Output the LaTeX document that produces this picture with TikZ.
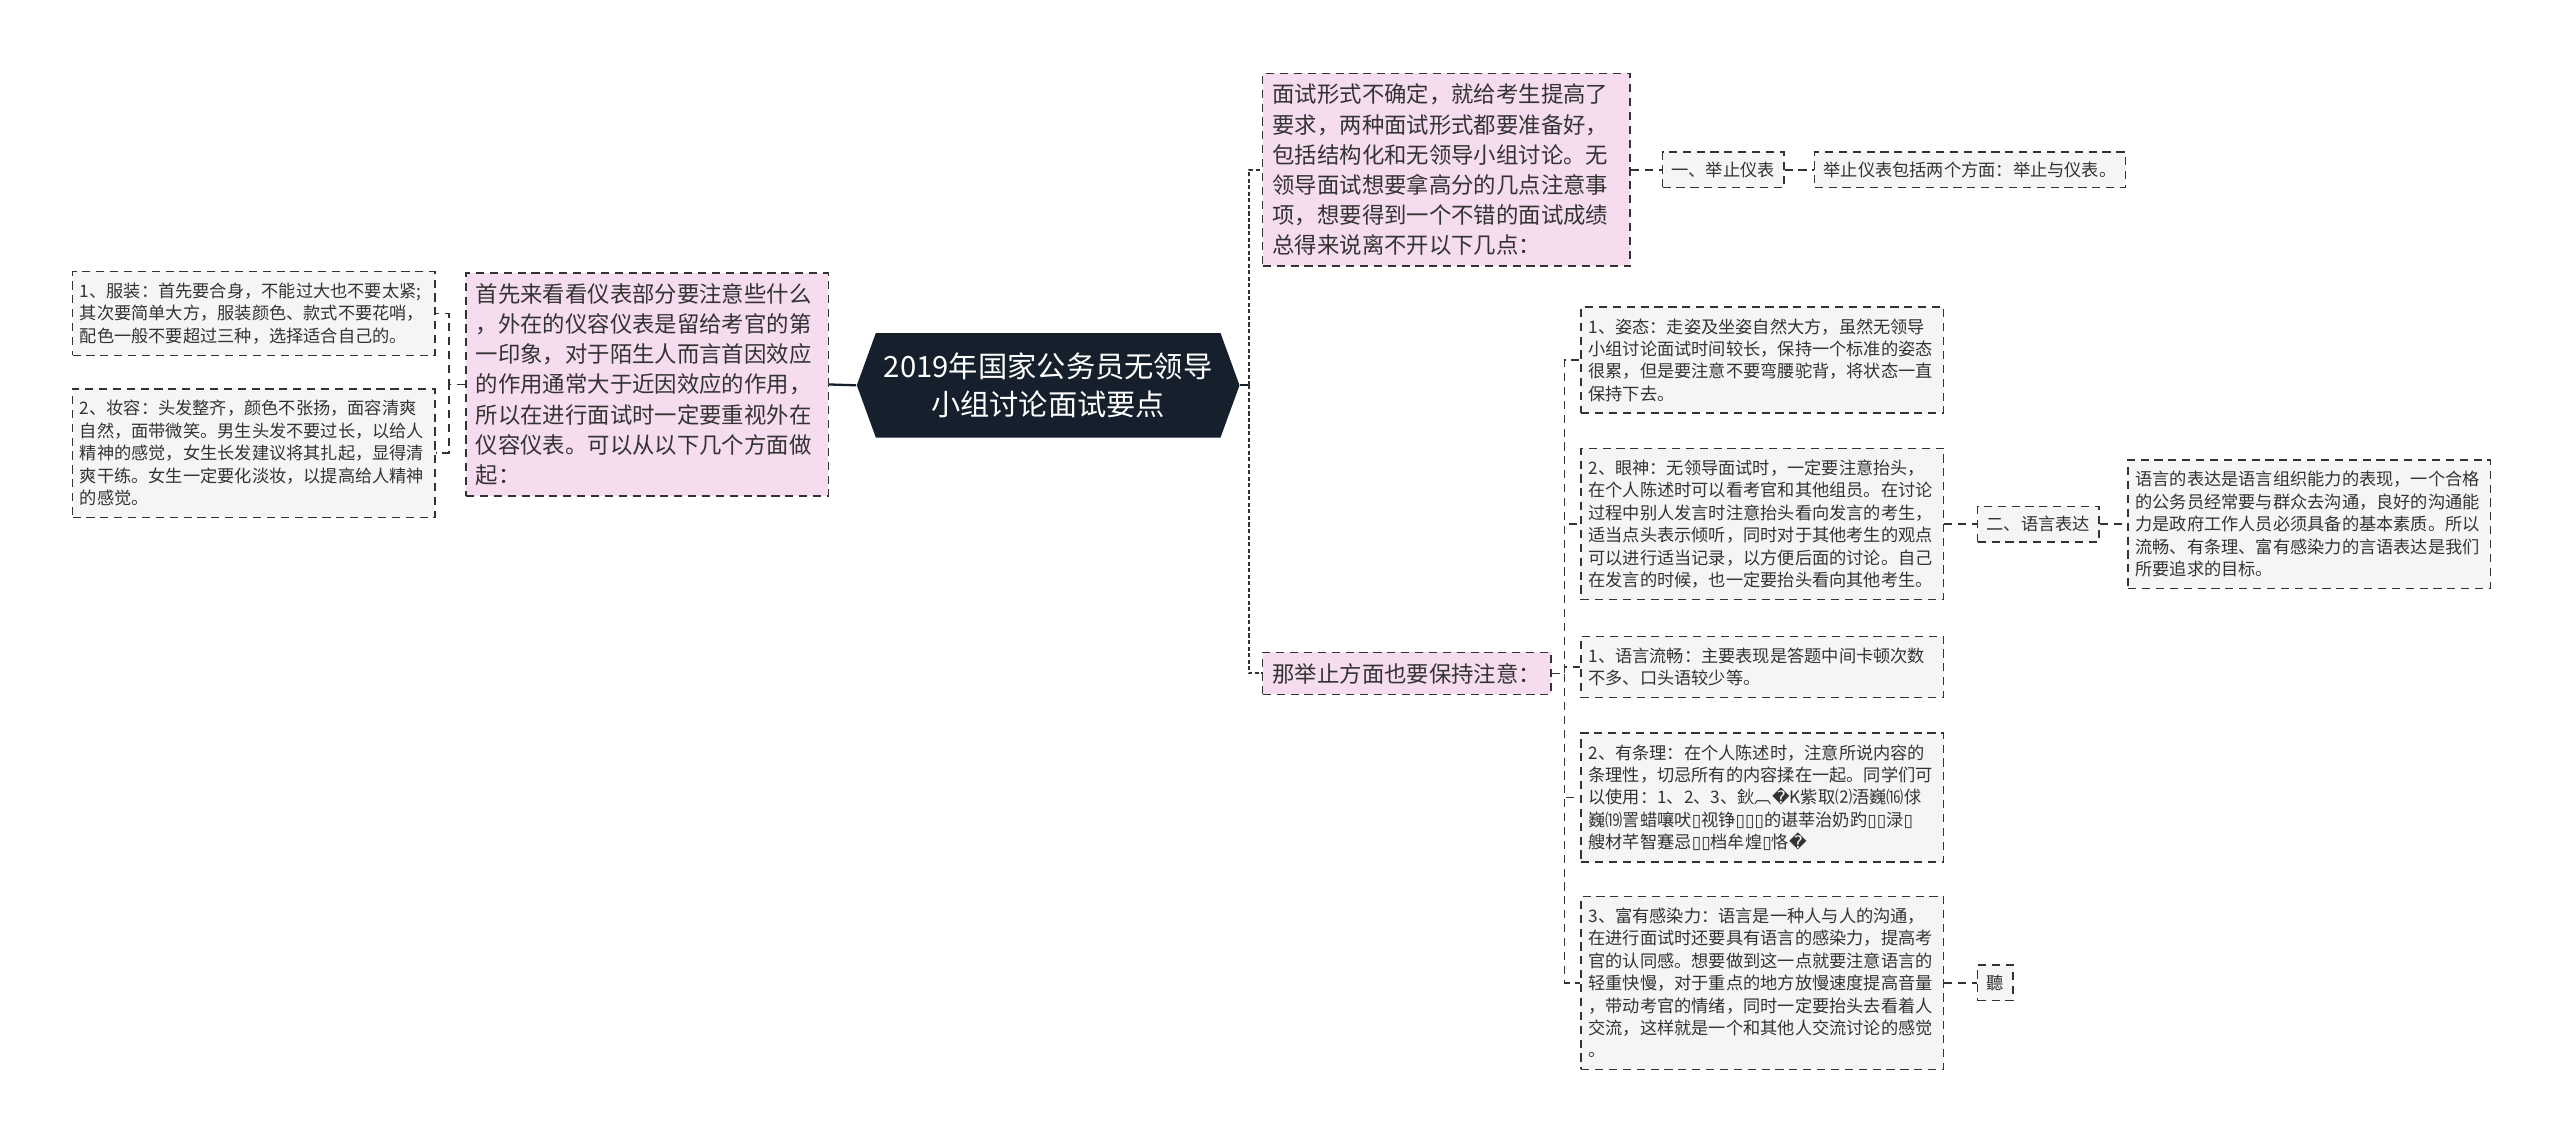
\documentclass[tikz,border=0pt]{standalone}
\usepackage{fontspec}
\setmainfont{Noto Sans CJK SC}
\newfontfamily\symfont{DejaVu Sans}
\usetikzlibrary{shapes.symbols,positioning}
\definecolor{rootnavy}{HTML}{16202D}
\definecolor{topicpink}{HTML}{F6DCEF}
\definecolor{leafgrey}{HTML}{F5F5F5}
\definecolor{edgegrey}{HTML}{333333}
\newcommand{\tofu}{{\symfont ▯}}
\newcommand{\badglyph}{{\symfont �}}

\begin{document}
\begin{tikzpicture}[
    x=0.2mm, y=-0.2mm,
    dashbox/.style={
        rectangle,
        draw=edgegrey,
        fill=leafgrey,
        line width=0.5pt,
        dash pattern=on 1mm off 0.7mm,
        text=edgegrey,
        align=left,
        font=\fontsize{6pt}{7.8pt}\selectfont,
        inner xsep=1.1mm,
        inner ysep=1.2mm,
        anchor=west
    },
    leafbox/.style={
        dashbox,
        text width=42.6mm,
        inner xsep=0.9mm,
        inner ysep=1.4mm
    },
    topicbox/.style={
        dashbox,
        fill=topicpink,
        font=\fontsize{7.8pt}{10.5pt}\selectfont,
        inner xsep=1.2mm,
        inner ysep=1.3mm
    },
    rootbox/.style={
        signal,
        signal to=west and east,
        signal pointer angle=140,
        fill=rootnavy,
        text=white,
        align=center,
        font=\fontsize{10.2pt}{13pt}\selectfont,
        minimum width=46mm,
        minimum height=12.8mm,
        inner xsep=1mm
    },
    rootlink/.style={draw=rootnavy, line width=0.8pt},
    hublink/.style={draw=edgegrey, line width=0.7pt, dash pattern=on 0.5mm off 0.3mm},
    link/.style={draw=edgegrey, line width=0.5pt, dash pattern=on 1mm off 0.7mm}
]
\useasboundingbox (0,0) rectangle (1568,700);

\node[rootbox] (root) at (642,236) {2019年国家公务员无领导\\小组讨论面试要点};

\node[topicbox, text width=42mm] (leftmain) at (285,235.5) {
首先来看看仪表部分要注意些什么\\
，外在的仪容仪表是留给考官的第\\
一印象，对于陌生人而言首因效应\\
的作用通常大于近因效应的作用，\\
所以在进行面试时一定要重视外在\\
仪容仪表。可以从以下几个方面做\\
起：};

\node[leafbox] (cloth) at (44,192) {
1、服装：首先要合身，不能过大也不要太紧;\\
其次要简单大方，服装颜色、款式不要花哨，\\
配色一般不要超过三种，选择适合自己的。};

\node[leafbox] (makeup) at (44,277.5) {
2、妆容：头发整齐，颜色不张扬，面容清爽\\
自然，面带微笑。男生头发不要过长，以给人\\
精神的感觉，女生长发建议将其扎起，显得清\\
爽干练。女生一定要化淡妆，以提高给人精神\\
的感觉。};

\node[topicbox, text width=42.6mm] (topmain) at (773,104) {
面试形式不确定，就给考生提高了\\
要求，两种面试形式都要准备好，\\
包括结构化和无领导小组讨论。无\\
领导面试想要拿高分的几点注意事\\
项，想要得到一个不错的面试成绩\\
总得来说离不开以下几点：};

\node[dashbox, right=3.8mm of topmain] (lift) {一、举止仪表};
\node[dashbox, right=3.6mm of lift] (liftnote) {举止仪表包括两个方面：举止与仪表。};

\node[topicbox] (moremain) at (773,412.5) {那举止方面也要保持注意：};

\node[leafbox] (posture) at (968,220.5) {
1、姿态：走姿及坐姿自然大方，虽然无领导\\
小组讨论面试时间较长，保持一个标准的姿态\\
很累，但是要注意不要弯腰驼背，将状态一直\\
保持下去。};

\node[leafbox] (eyes) at (968,321) {
2、眼神：无领导面试时，一定要注意抬头，\\
在个人陈述时可以看考官和其他组员。在讨论\\
过程中别人发言时注意抬头看向发言的考生，\\
适当点头表示倾听，同时对于其他考生的观点\\
可以进行适当记录，以方便后面的讨论。自己\\
在发言的时候，也一定要抬头看向其他考生。};

\node[dashbox, right=4mm of eyes] (speech) {二、语言表达};

\node[leafbox, right=3.4mm of speech] (speechnote) {
语言的表达是语言组织能力的表现，一个合格\\
的公务员经常要与群众去沟通，良好的沟通能\\
力是政府工作人员必须具备的基本素质。所以\\
流畅、有条理、富有感染力的言语表达是我们\\
所要追求的目标。};

\node[leafbox] (fluent) at (968,408.5) {
1、语言流畅：主要表现是答题中间卡顿次数\\
不多、口头语较少等。};

\node[leafbox] (order) at (968,488.5) {
2、有条理：在个人陈述时，注意所说内容的\\
条理性，切忌所有的内容揉在一起。同学们可\\
以使用：1、2、3、鈥︹\badglyph K紫取⑵浯巍⒃俅\\
巍⒆詈蜡嚷吠\tofu 视铮\tofu\tofu\tofu 的谌莘治奶趵\tofu\tofu 渌\tofu\\
艘材芊智蹇忌\tofu\tofu 档牟煌\tofu 恪\badglyph};

\node[leafbox] (touch) at (968,602) {
3、富有感染力：语言是一种人与人的沟通，\\
在进行面试时还要具有语言的感染力，提高考\\
官的认同感。想要做到这一点就要注意语言的\\
轻重快慢，对于重点的地方放慢速度提高音量\\
，带动考官的情绪，同时一定要抬头去看着人\\
交流，这样就是一个和其他人交流讨论的感觉\\
。};

\node[dashbox, right=4mm of touch] (ting) {聽};

\coordinate (rhub) at (765,236);

\draw[rootlink] (root.west) -- (leftmain.east);
\draw[rootlink] (root.east) -- (rhub);
\draw[hublink] (rhub) |- (topmain.west);
\draw[hublink] (rhub) |- (moremain.west);
\draw[link] (leftmain.west) -- ++(-10,0) |- (cloth.east);
\draw[link] (leftmain.west) -- ++(-10,0) |- (makeup.east);
\draw[link] (topmain.east) -- (lift.west);
\draw[link] (lift.east) -- (liftnote.west);
\draw[link] (moremain.east) -- ++(8,0) |- (posture.west);
\draw[link] (moremain.east) -- ++(8,0) |- (eyes.west);
\draw[link] (moremain.east) -- ++(8,0) |- (fluent.west);
\draw[link] (moremain.east) -- ++(8,0) |- (order.west);
\draw[link] (moremain.east) -- ++(8,0) |- (touch.west);
\draw[link] (eyes.east) -- (speech.west);
\draw[link] (speech.east) -- (speechnote.west);
\draw[link] (touch.east) -- (ting.west);

\end{tikzpicture}
\end{document}
